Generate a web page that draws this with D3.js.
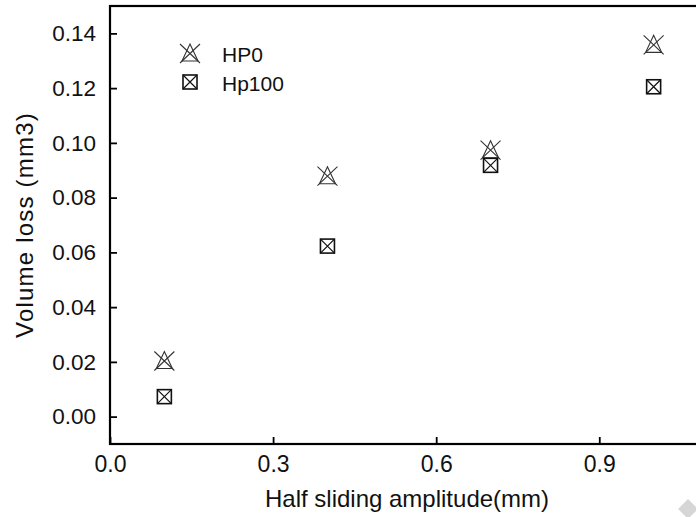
<!DOCTYPE html>
<html>
<head>
<meta charset="utf-8">
<script src="https://cdn.jsdelivr.net/npm/d3@7"></script>
<style>
  body { margin: 0; background: #fff; overflow: hidden; }
  svg { display: block; font-family: "Liberation Sans", Arial, sans-serif; }
</style>
</head>
<body>
<script>
// data
const amplitude = [0.1, 0.4, 0.7, 1.0];
const hp0       = [0.0205, 0.088, 0.0975, 0.136];
const hp100     = [0.0073, 0.0623, 0.0918, 0.1205];
const xTicks    = [0.0, 0.3, 0.6, 0.9];
const yTicks    = [0.00, 0.02, 0.04, 0.06, 0.08, 0.10, 0.12, 0.14];
const seriesNames = ["HP0", "Hp100"];

const width = 696, height = 517;
const margin = { top: 6, left: 110, bottom: 73 };
const plotRight = 708; // the frame runs past the picture edge

const svg = d3.select("body").append("svg")
    .attr("width", width)
    .attr("height", height);

const x = d3.scaleLinear().domain([0, 1.1]).range([margin.left, plotRight]);
const y = d3.scaleLinear().domain([-0.01, 0.15]).range([height - margin.bottom, margin.top]);

// axes, ticks pointing inward
const xAxis = d3.axisBottom(x).tickValues(xTicks).tickFormat(d3.format(".1f"))
    .tickSizeInner(-7).tickSizeOuter(0).tickPadding(12);
const yAxis = d3.axisLeft(y).tickValues(yTicks).tickFormat(d3.format(".2f"))
    .tickSizeInner(-7).tickSizeOuter(0).tickPadding(14);

svg.append("g")
    .attr("transform", `translate(0,${height - margin.bottom})`)
    .call(xAxis)
    .call(g => g.select(".domain").remove())
    .call(g => g.selectAll("line").attr("stroke", "#000").attr("stroke-width", 1.8))
    .call(g => g.selectAll("text").attr("font-size", 23).attr("fill", "#111"));

svg.append("g")
    .attr("transform", `translate(${margin.left},0)`)
    .call(yAxis)
    .call(g => g.select(".domain").remove())
    .call(g => g.selectAll("line").attr("stroke", "#000").attr("stroke-width", 1.8))
    .call(g => g.selectAll("text").attr("font-size", 22.5).attr("fill", "#111"));

// frame
svg.append("rect")
    .attr("x", margin.left)
    .attr("y", margin.top)
    .attr("width", plotRight - margin.left)
    .attr("height", height - margin.bottom - margin.top)
    .attr("fill", "none")
    .attr("stroke", "#000")
    .attr("stroke-width", 2.2);

// axis titles
svg.append("text")
    .attr("x", 407)
    .attr("y", 507)
    .attr("text-anchor", "middle")
    .attr("font-size", 24)
    .attr("fill", "#111")
    .text("Half sliding amplitude(mm)");

svg.append("text")
    .attr("transform", "translate(33,225) rotate(-90)")
    .attr("text-anchor", "middle")
    .attr("font-size", 24)
    .attr("letter-spacing", 1.2)
    .attr("fill", "#111")
    .text("Volume loss (mm3)");

// markers
function triX(g) {
    g.append("path")
        .attr("d", "M0,-9 L8,8 L-8,8 Z")
        .attr("fill", "none").attr("stroke", "#333").attr("stroke-width", 1.1);
    g.append("path")
        .attr("d", "M-10,-9 L10,10 M10,-9 L-10,10")
        .attr("fill", "none").attr("stroke", "#333").attr("stroke-width", 1.1);
}
function boxX(g) {
    g.append("rect")
        .attr("x", -7).attr("y", -7).attr("width", 14).attr("height", 14)
        .attr("fill", "none").attr("stroke", "#111").attr("stroke-width", 1.6);
    g.append("path")
        .attr("d", "M-7,-7 L7,7 M7,-7 L-7,7")
        .attr("fill", "none").attr("stroke", "#111").attr("stroke-width", 1.2);
}

svg.append("g").selectAll("g")
    .data(amplitude.map((a, i) => ({ a, v: hp0[i] })))
    .join("g")
    .attr("transform", d => `translate(${x(d.a)},${y(d.v)})`)
    .each(function () { triX(d3.select(this)); });

svg.append("g").selectAll("g")
    .data(amplitude.map((a, i) => ({ a, v: hp100[i] })))
    .join("g")
    .attr("transform", d => `translate(${x(d.a)},${y(d.v)})`)
    .each(function () { boxX(d3.select(this)); });

// legend
const legend = svg.append("g").attr("transform", "translate(190,53)");
[triX, boxX].forEach((fn, i) => {
    const row = legend.append("g").attr("transform", `translate(0,${i * 29})`);
    fn(row);
    row.append("text")
        .attr("x", 32).attr("y", 9)
        .attr("font-size", 21)
        .attr("fill", "#111")
        .text(seriesNames[i]);
});

// little grey diamond in the corner
svg.append("path")
    .attr("transform", "translate(688,509) rotate(45)")
    .attr("d", "M-7,-7 H7 V7 H-7 Z")
    .attr("fill", "#d6d6d6");
</script>
</body>
</html>
